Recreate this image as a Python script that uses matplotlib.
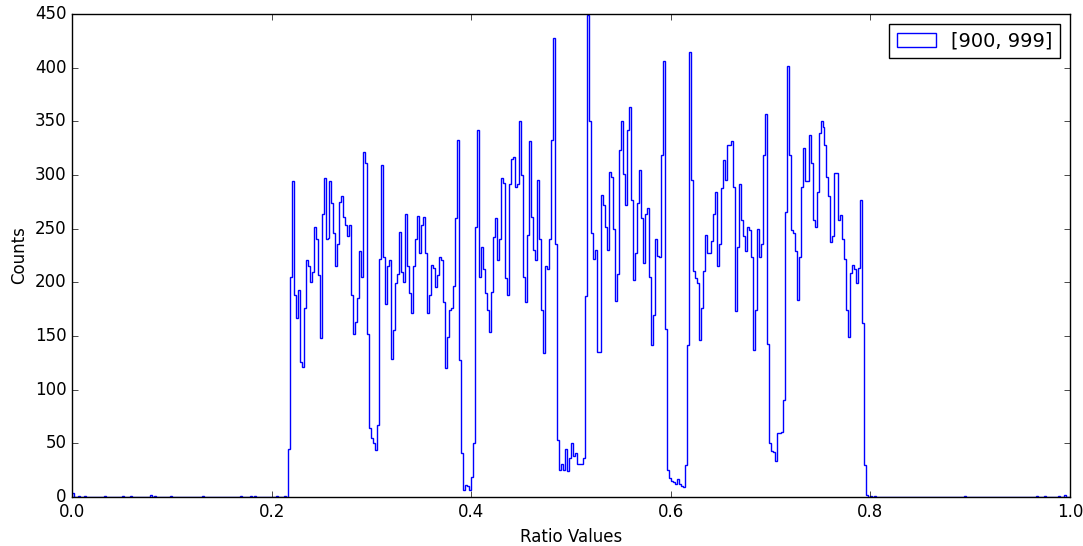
import numpy as np
import matplotlib
matplotlib.use("Agg")
import matplotlib.pyplot as plt

# histogram bins: 500 bins over [0, 1]
n_bins = 500
edges = np.linspace(0.0, 1.0, n_bins + 1)

# main block of counts, starting at bin 108 (x = 0.216)
core_start = 108
core_counts = [
    45, 205, 294, 188, 167, 193, 126, 121, 176, 221, 215, 200, 210, 252, 240, 207,
    148, 264, 297, 240, 241, 294, 274, 246, 215, 236, 275, 280, 261, 253, 243, 253,
    188, 152, 163, 185, 229, 205, 321, 311, 152, 64,
    55, 50, 44, 67, 222, 309, 224, 180, 215, 221, 129, 156, 199, 208, 247, 210,
    200, 264, 215, 190, 171, 215, 240, 262, 227, 253, 261, 227, 171, 188, 216, 213,
    196, 207, 224, 221, 182, 120, 149, 174, 176, 197, 260, 333, 128, 41, 7,
    11, 10, 7, 19, 50, 252, 342, 205, 233, 212, 190, 174, 154, 191, 242, 260,
    221, 240, 297, 293, 204, 188, 292, 315, 317, 289, 292, 350, 300, 205, 182, 244,
    332, 261, 230, 221, 295, 240, 174, 134, 215, 212, 240, 333, 428, 236, 53,
    25, 31, 25, 45, 24, 36, 50, 38, 41, 31, 31, 31, 36, 187, 449, 350,
    246, 222, 230, 135, 135, 281, 272, 252, 230, 303, 298, 250, 183, 208, 323, 350,
    301, 272, 342, 363, 277, 202, 227, 274, 305, 260, 218, 264, 269, 205, 142,
    170, 240, 225, 224, 319, 406, 157, 25, 18, 15, 14, 12, 17, 12, 10, 9, 30,
    142, 415, 295, 211, 204, 199, 146, 176, 211, 244, 227, 227, 239, 264, 284, 215,
    236, 288, 314, 295, 328, 328, 332, 289, 173, 233, 292, 258, 243, 229,
    252, 249, 224, 137, 174, 250, 224, 236, 319, 357, 143, 50, 43, 42, 34, 60,
    60, 61, 90, 266, 402, 319, 249, 246, 229, 184, 224, 289, 325, 294, 294, 337,
    311, 258, 252, 284, 339, 350, 345, 328, 298, 280, 238, 243, 302, 302, 258, 263,
    240,
    222, 174, 149, 209, 216, 212, 199, 213, 277, 162, 30, 2,
]

# scattered low counts outside the main block
sparse_bins = [0, 3, 6, 16, 25, 29, 39, 41, 49, 65, 84, 89, 91, 102, 106,
               400, 402, 447, 483, 487, 494, 497]
sparse_counts = [4, 1, 1, 1, 1, 1, 2, 1, 1, 1, 1, 1, 1, 1, 1,
                 1, 1, 1, 1, 1, 1, 2]

counts = np.zeros(n_bins)
counts[core_start:core_start + len(core_counts)] = core_counts
counts[sparse_bins] = sparse_counts

plt.style.use("classic")
fig = plt.figure(figsize=(10.83, 5.46), dpi=100, facecolor="white")
ax = fig.add_axes([0.0665, 0.0897, 0.9215, 0.8846])

ax.hist(edges[:-1], bins=edges, weights=counts, histtype="step",
        color="b", linewidth=1.0, label="[900, 999]")

ax.set_xlim(0, 1.0)
ax.set_ylim(0, 450)
ax.set_yticks(np.arange(0, 451, 50))
ax.set_xlabel("Ratio Values", fontsize=12)
ax.set_ylabel("Counts", fontsize=12)
ax.tick_params(labelsize=12)
ax.legend(loc="upper right", fontsize=14)

fig.savefig("out.png", dpi=100, facecolor="white")
